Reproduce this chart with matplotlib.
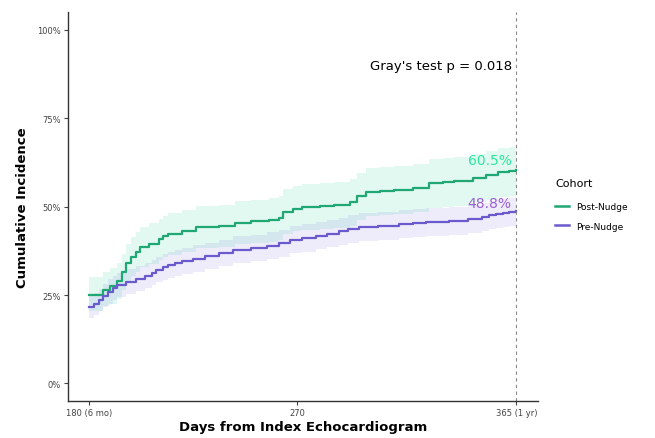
import matplotlib.pyplot as plt
from matplotlib.lines import Line2D

# step points (day, cumulative incidence %)
post_days = [180, 186, 189, 192, 194, 196, 198, 200, 202, 206, 210, 212, 214, 220, 226, 236, 243, 250, 258, 262, 264, 268, 272, 280, 286, 293, 296, 300, 306, 312, 320, 327, 333, 338, 346, 352, 357, 362, 365]
post_ci = [25.0, 26.5, 27.5, 29.0, 31.5, 34.0, 35.8, 37.2, 38.5, 39.5, 40.8, 41.6, 42.3, 43.1, 44.2, 44.6, 45.4, 45.8, 46.2, 46.8, 48.6, 49.4, 50.0, 50.3, 50.6, 51.2, 53.0, 54.2, 54.5, 54.8, 55.4, 56.6, 56.9, 57.2, 58.2, 59.0, 59.8, 60.2, 60.5]
post_lo = [20.5, 21.8, 22.6, 24.0, 26.3, 28.7, 30.3, 31.6, 32.8, 33.8, 35.0, 35.7, 36.4, 37.2, 38.2, 38.6, 39.3, 39.7, 40.0, 40.6, 42.2, 43.0, 43.5, 43.8, 44.0, 44.6, 46.3, 47.4, 47.7, 48.0, 48.6, 49.7, 50.0, 50.3, 51.2, 52.0, 52.7, 53.1, 53.4]
post_hi = [30.0, 31.5, 32.6, 34.2, 36.7, 39.4, 41.3, 42.8, 44.2, 45.3, 46.6, 47.4, 48.2, 49.0, 50.2, 50.6, 51.5, 51.9, 52.4, 53.0, 54.9, 55.8, 56.4, 56.7, 57.0, 57.7, 59.6, 60.9, 61.2, 61.5, 62.1, 63.4, 63.7, 64.0, 65.0, 65.8, 66.6, 67.0, 67.3]

pre_days = [180, 182, 184, 186, 188, 190, 192, 196, 200, 204, 207, 209, 212, 214, 217, 220, 225, 230, 236, 242, 250, 257, 262, 267, 272, 278, 283, 288, 292, 297, 305, 314, 320, 326, 336, 344, 350, 353, 356, 359, 362, 365]
pre_ci = [21.5, 22.4, 23.5, 24.8, 26.0, 26.9, 27.8, 28.8, 29.6, 30.4, 31.3, 32.2, 32.8, 33.4, 34.0, 34.6, 35.3, 36.0, 36.9, 37.8, 38.2, 38.9, 39.6, 40.6, 41.1, 41.7, 42.3, 43.0, 43.6, 44.2, 44.6, 45.1, 45.3, 45.6, 46.0, 46.5, 47.1, 47.5, 47.9, 48.2, 48.5, 48.8]
pre_lo = [18.4, 19.3, 20.4, 21.6, 22.6, 23.5, 24.4, 25.4, 26.1, 26.9, 27.8, 28.6, 29.2, 29.8, 30.4, 31.0, 31.6, 32.3, 33.2, 34.1, 34.5, 35.2, 35.8, 36.8, 37.3, 37.9, 38.5, 39.2, 39.7, 40.3, 40.7, 41.2, 41.4, 41.7, 42.1, 42.6, 43.2, 43.6, 43.9, 44.2, 44.5, 44.8]
pre_hi = [24.8, 25.6, 26.8, 28.1, 29.5, 30.4, 31.3, 32.4, 33.2, 34.0, 34.9, 35.9, 36.5, 37.1, 37.7, 38.4, 39.1, 39.8, 40.7, 41.6, 42.0, 42.7, 43.4, 44.5, 45.0, 45.6, 46.2, 46.9, 47.5, 48.2, 48.6, 49.1, 49.3, 49.6, 50.0, 50.5, 51.1, 51.5, 51.9, 52.2, 52.5, 52.8]

x_ticks = [180, 270, 365]
x_tick_labels = ["180 (6 mo)", "270", "365 (1 yr)"]
y_ticks = [0, 25, 50, 75, 100]
y_tick_labels = ["0%", "25%", "50%", "75%", "100%"]

green = "#1fa774"
purple = "#6a5acd"
green_txt = "#2ee6a0"
purple_txt = "#9a5fd0"

fig = plt.figure(figsize=(6.55, 4.39), dpi=100)
ax = fig.add_axes([0.104, 0.084, 0.717, 0.886])

ax.fill_between(post_days, post_lo, post_hi, step="post", color="#2ed89a", alpha=0.14, lw=0)
ax.fill_between(pre_days, pre_lo, pre_hi, step="post", color="#8c7ae6", alpha=0.14, lw=0)
ax.step(post_days, post_ci, where="post", color=green, lw=1.6)
ax.step(pre_days, pre_ci, where="post", color=purple, lw=1.6)

ax.axvline(365, color="#888888", ls=(0, (3, 3)), lw=0.8)

ax.text(363, post_ci[-1] + 0.8, f"{post_ci[-1]:.1f}%", color=green_txt, fontsize=10,
        fontweight="medium", ha="right", va="bottom")
ax.text(363, pre_ci[-1] + 0.3, f"{pre_ci[-1]:.1f}%", color=purple_txt, fontsize=10,
        fontweight="medium", ha="right", va="bottom")
ax.text(363, 90, "Gray's test p = 0.018", fontsize=9.5, ha="right", va="center")

ax.set_xlim(170.75, 374.25)
ax.set_ylim(-5, 105)
ax.set_xticks(x_ticks)
ax.set_xticklabels(x_tick_labels)
ax.set_yticks(y_ticks)
ax.set_yticklabels(y_tick_labels)
ax.tick_params(labelsize=6, colors="#444444", length=3, width=0.8, pad=2)
for s in ["top", "right"]:
    ax.spines[s].set_visible(False)
for s in ["left", "bottom"]:
    ax.spines[s].set_color("#333333")
    ax.spines[s].set_linewidth(1.0)

ax.set_xlabel("Days from Index Echocardiogram", fontsize=9.5, fontweight="bold", labelpad=2)
ax.set_ylabel("Cumulative Incidence", fontsize=9.5, fontweight="bold", labelpad=6)

handles = [Line2D([], [], color=green, lw=1.8), Line2D([], [], color=purple, lw=1.8)]
leg = fig.legend(handles, ["Post-Nudge", "Pre-Nudge"], title="Cohort", loc="upper left",
                 bbox_to_anchor=(0.835, 0.61), frameon=False, fontsize=6.5,
                 title_fontsize=8, handlelength=1.5, alignment="left",
                 labelspacing=1.15)
leg._legend_box.sep = 10

fig.savefig("out.png", dpi=100)
